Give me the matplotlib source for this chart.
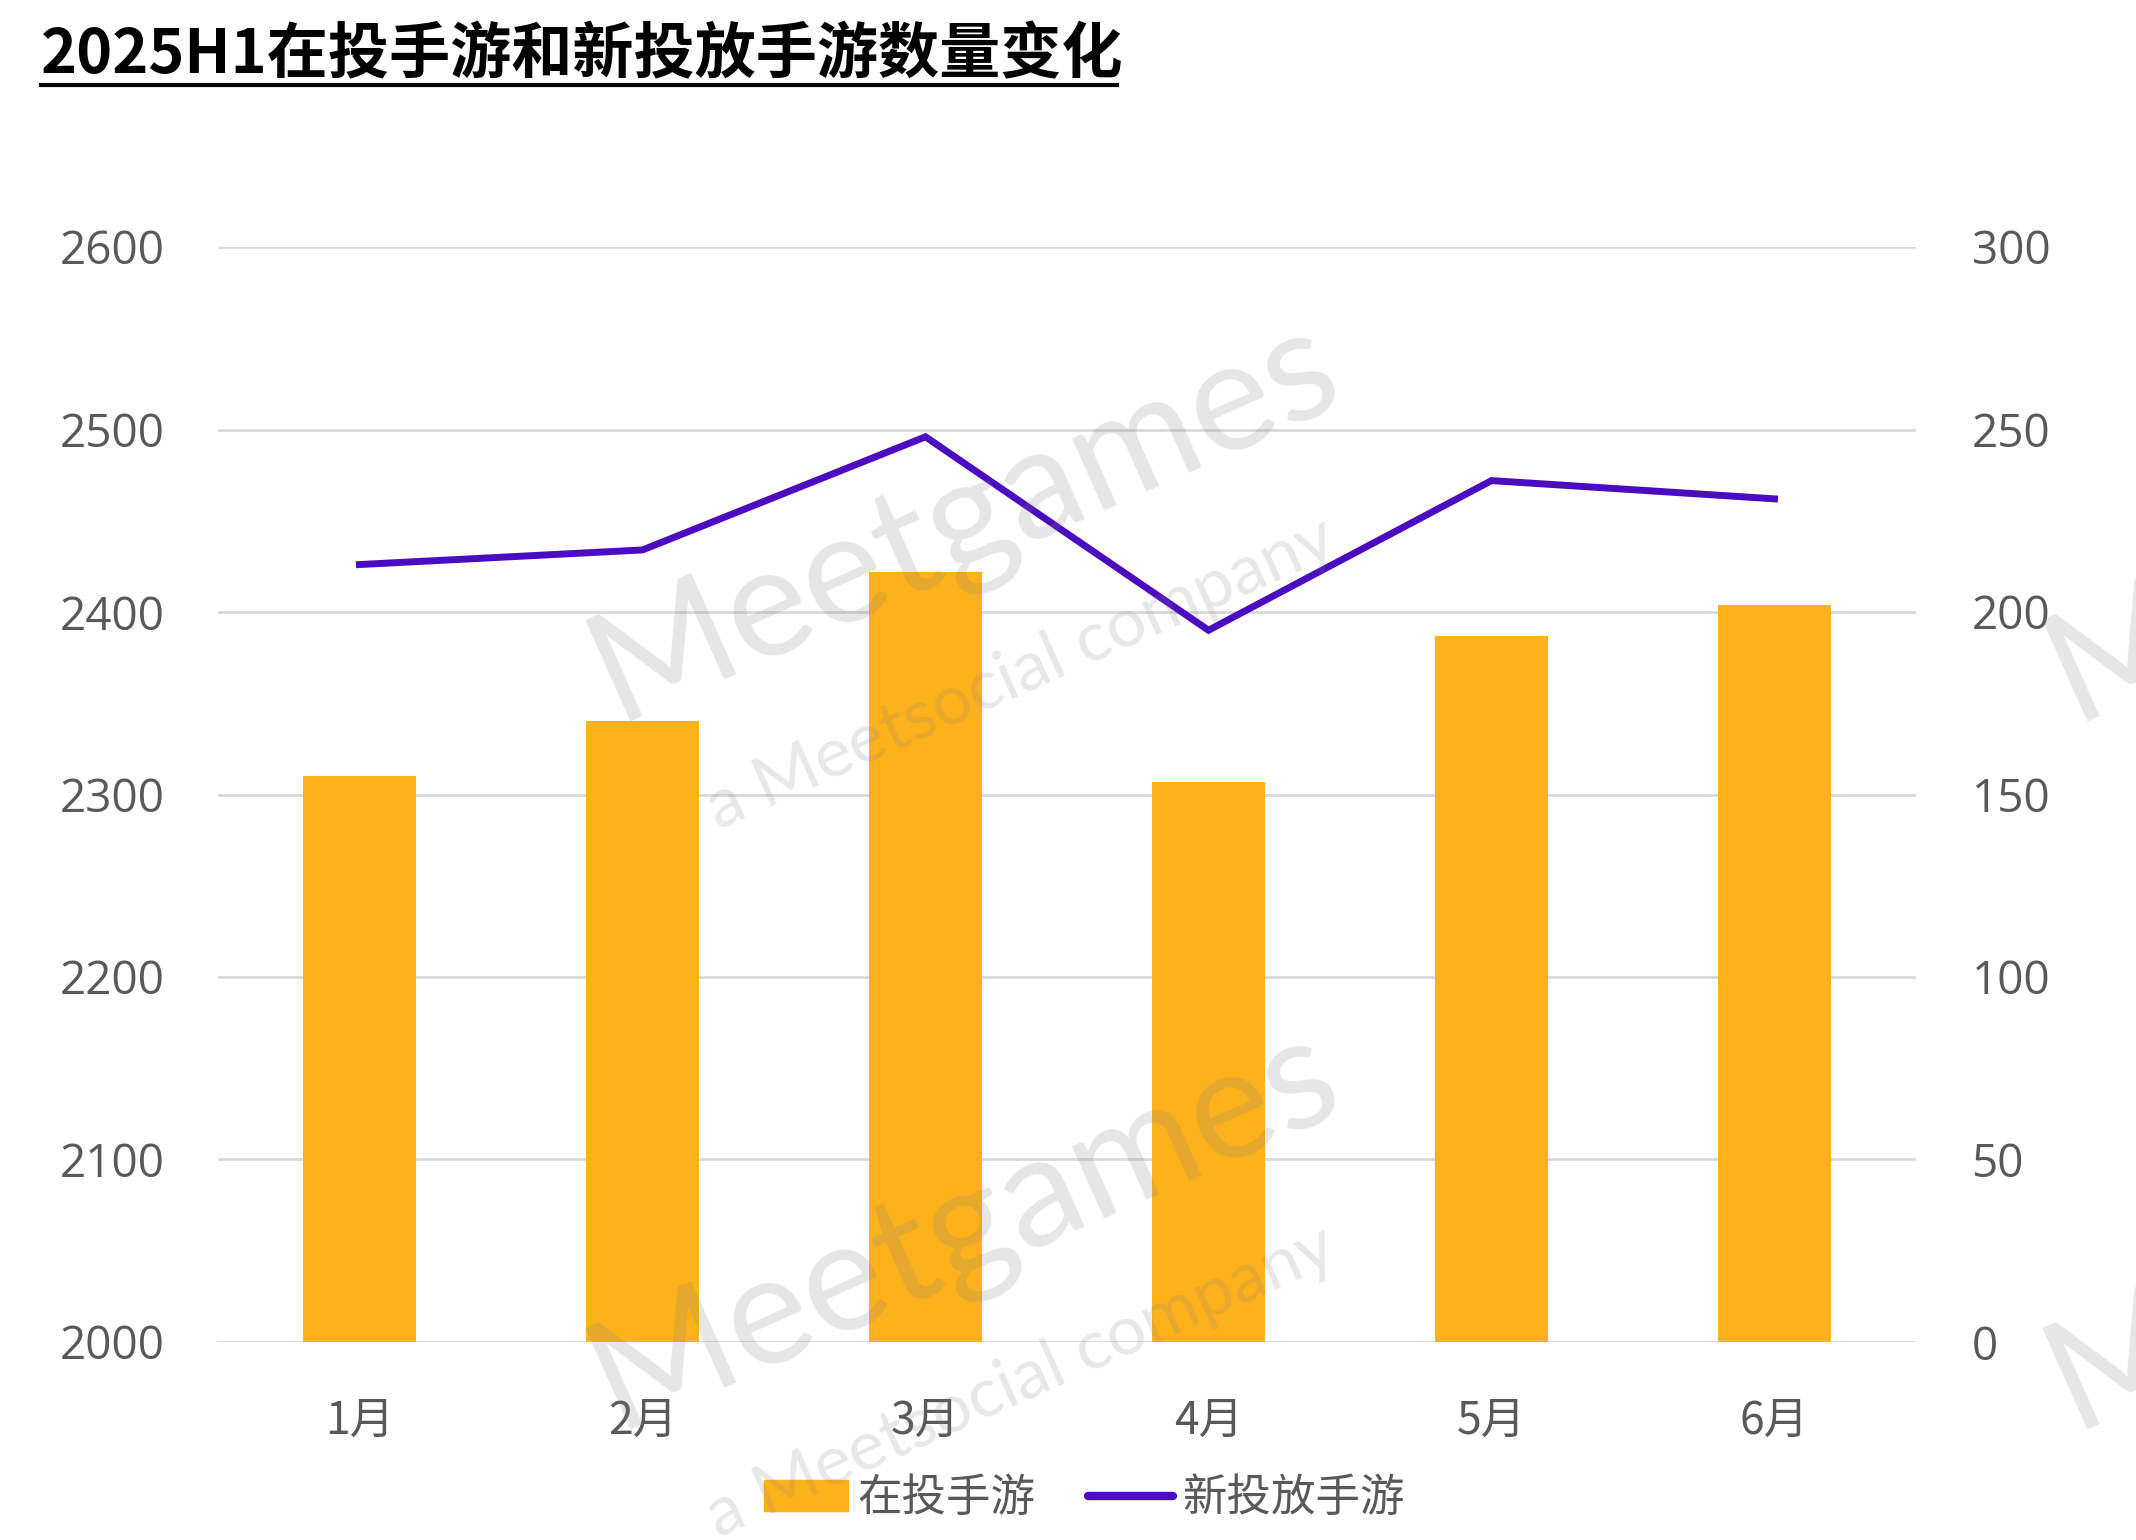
import matplotlib
matplotlib.use("Agg")
import matplotlib.pyplot as plt
from matplotlib.patches import Patch
from matplotlib.lines import Line2D

plt.rcParams['font.family'] = ['Noto Sans CJK SC', 'DejaVu Sans']

months = ['1月', '2月', '3月', '4月', '5月', '6月']
active_games = [2310, 2340, 2422, 2307, 2387, 2404]   # 在投手游 (left axis)
new_games = [213, 217, 248, 195, 236, 231]           # 新投放手游 (right axis)
left_ticks = [2000, 2100, 2200, 2300, 2400, 2500, 2600]
right_ticks = [0, 50, 100, 150, 200, 250, 300]

bar_color = '#FDB21C'
line_color = '#4B0BC0'
text_color = '#595959'
W, H = 2136, 1540

fig = plt.figure(figsize=(W / 100, H / 100), dpi=100)
ax1 = fig.add_axes([218 / W, 1 - 1342 / H, (1916 - 218) / W, (1342 - 247) / H])
ax2 = ax1.twinx()

x = list(range(len(months)))
ax1.bar(x, [v - 2000 for v in active_games], bottom=2000, width=0.4,
        color=bar_color, zorder=2)
ax2.plot(x, new_games, color=line_color, lw=5, zorder=3,
         solid_joinstyle='miter')

ax1.set_xlim(-0.5, 5.5)
ax1.set_ylim(2000, 2600)
ax2.set_ylim(0, 300)
ax1.set_yticks(left_ticks)
ax2.set_yticks(right_ticks)
ax1.yaxis.grid(True, color='#D9D9D9', lw=2, zorder=0)
ax1.set_axisbelow(True)

ax1.set_xticks(x)
ax1.set_xticklabels(months, fontsize=32, color=text_color)
ax1.tick_params(axis='x', length=0, pad=40)
for a in (ax1, ax2):
    for s in a.spines.values():
        s.set_visible(False)
    a.tick_params(axis='y', length=0, labelsize=33, labelcolor=text_color)
for lbl in ax1.get_yticklabels() + ax2.get_yticklabels():
    lbl.set_family(['Open Sans', 'DejaVu Sans'])
    lbl.set_fontweight('medium')
ax1.tick_params(axis='y', pad=38)
ax2.tick_params(axis='y', pad=40)

# title with underline
fig.text(41 / W, 1 - 56 / H, '2025H1在投手游和新投放手游数量变化',
         fontsize=44, fontweight='bold', color='black', va='center', ha='left')
fig.add_artist(Line2D([41 / W, 1117 / W], [1 - 85 / H, 1 - 85 / H],
                      color='black', lw=3))

handles = [Patch(color=bar_color, label='在投手游'),
           Line2D([0], [0], color=line_color, lw=6, solid_capstyle='round',
                  label='新投放手游')]
fig.legend(handles=handles, loc='center', bbox_to_anchor=(0.5075, 0.027),
           ncol=2, frameon=False, prop={'size': 32}, labelcolor=text_color,
           handlelength=1.9, handletextpad=0.2, columnspacing=1.2)

# watermark
for dx, dy in [(0, 0), (0, 708), (1457, 0), (1457, 708)]:
    fig.text((965 + dx) / W, 1 - (520 + dy) / H, 'Meetgames',
             fontsize=112, family='Lato', color='#808080', alpha=0.2,
             rotation=24, ha='center', va='center', zorder=10)
    fig.text((1021 + dx) / W, 1 - (674 + dy) / H, 'a Meetsocial company',
             fontsize=50, family='Lato', color='#808080', alpha=0.18,
             rotation=24, ha='center', va='center', zorder=10)

fig.savefig('out.png', dpi=100)
